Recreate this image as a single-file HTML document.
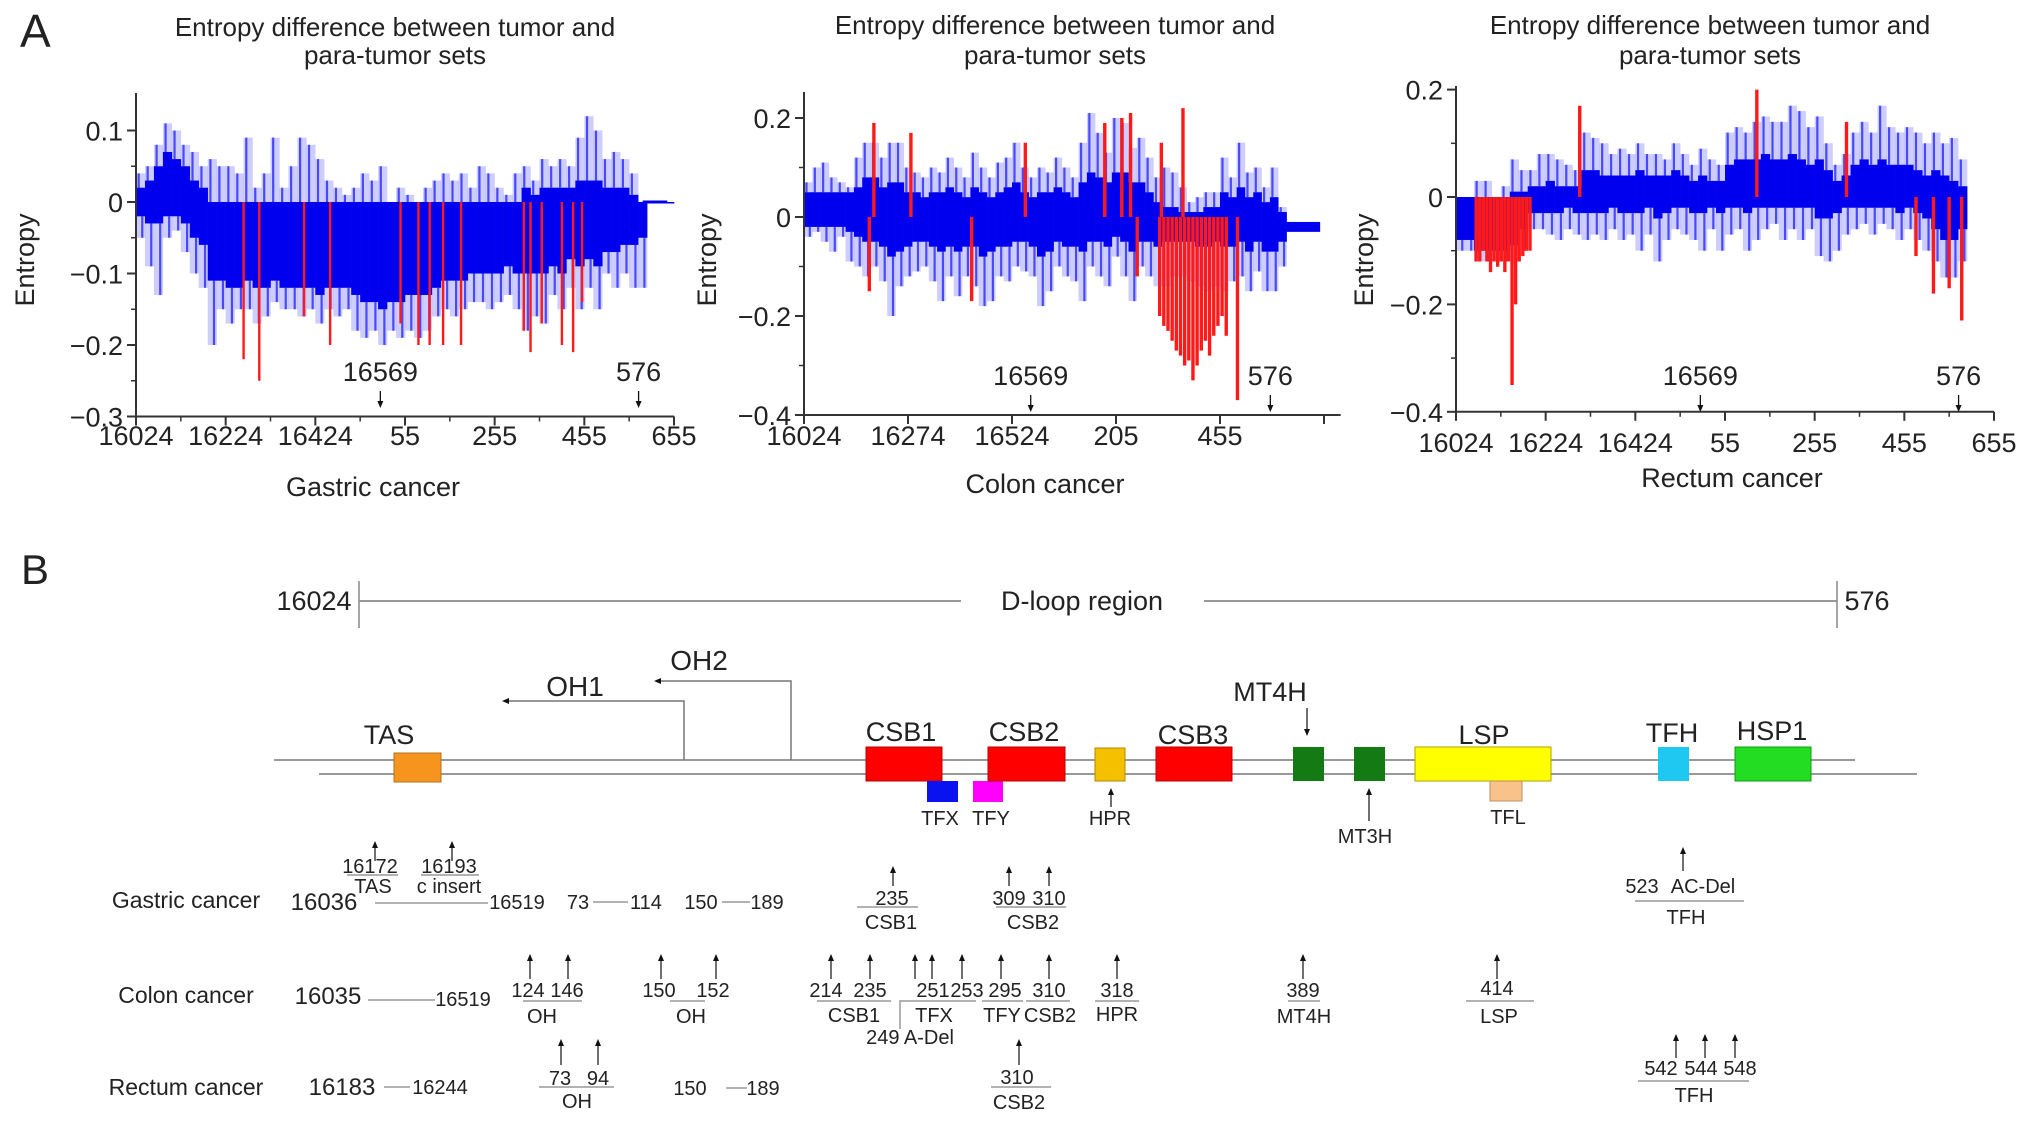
<!DOCTYPE html>
<html><head><meta charset="utf-8"><style>
html,body{margin:0;padding:0;background:#fff;}
svg{display:block;font-family:"Liberation Sans",Arial,sans-serif;}
text{fill:#222;}
</style></head><body>
<svg id="fig" width="2032" height="1122" viewBox="0 0 2032 1122" xmlns="http://www.w3.org/2000/svg">
<defs>
<marker id="ah" markerWidth="8" markerHeight="8" refX="4" refY="4" orient="auto" markerUnits="userSpaceOnUse"><path d="M0,1 L7,4 L0,7 Z" fill="#111"/></marker>
</defs>
<text x="20" y="47" font-size="46">A</text>
<g id="c1"></g>
<g id="c2"></g>
<g id="c3"></g>

<g font-size="20" text-anchor="middle">
<text x="21" y="584" font-size="42" text-anchor="start">B</text>
<text x="314" y="610" font-size="27">16024</text>
<line x1="359" y1="581" x2="359" y2="628" stroke="#888" stroke-width="1.5"/>
<line x1="359" y1="601" x2="961" y2="601" stroke="#999" stroke-width="2"/>
<text x="1082" y="610" font-size="27">D-loop region</text>
<line x1="1204" y1="601" x2="1837" y2="601" stroke="#999" stroke-width="2"/>
<line x1="1837" y1="581" x2="1837" y2="628" stroke="#888" stroke-width="1.5"/>
<text x="1867" y="610" font-size="27">576</text>

<line x1="274" y1="760" x2="1855" y2="760" stroke="#999" stroke-width="2"/>
<line x1="319" y1="774" x2="1917" y2="774" stroke="#999" stroke-width="2"/>

<polyline points="684,760 684,701 505,701" fill="none" stroke="#777" stroke-width="1.5" marker-end="url(#ah)"/>
<text x="575" y="696" font-size="28">OH1</text>
<polyline points="791,760 791,681 657,681" fill="none" stroke="#777" stroke-width="1.5" marker-end="url(#ah)"/>
<text x="699" y="670" font-size="28">OH2</text>

<rect x="394" y="753" width="47" height="29" fill="#f7941d" stroke="#b0701a"/>
<text x="389" y="744" font-size="27">TAS</text>
<rect x="866" y="747" width="76" height="34" fill="#f00" stroke="#b00"/>
<text x="901" y="741" font-size="27">CSB1</text>
<rect x="927" y="781" width="31" height="21" fill="#0a12f0"/>
<text x="940" y="825">TFX</text>
<rect x="973" y="781" width="30" height="21" fill="#f0f"/>
<text x="991" y="825">TFY</text>
<rect x="988" y="747" width="77" height="34" fill="#f00" stroke="#b00"/>
<text x="1024" y="741" font-size="27">CSB2</text>
<rect x="1095" y="748" width="30" height="33" fill="#f5c000" stroke="#b08a00"/>
<line x1="1111" y1="807" x2="1111" y2="791" stroke="#111" stroke-width="1.2" marker-end="url(#ah)"/>
<text x="1110" y="825">HPR</text>
<rect x="1156" y="747" width="76" height="34" fill="#f00" stroke="#b00"/>
<text x="1193" y="744" font-size="27">CSB3</text>
<rect x="1293" y="747" width="31" height="34" fill="#147a14"/>
<line x1="1307" y1="708" x2="1307" y2="733" stroke="#111" stroke-width="1.2" marker-end="url(#ah)"/>
<text x="1270" y="701" font-size="27">MT4H</text>
<rect x="1354" y="747" width="31" height="34" fill="#147a14"/>
<line x1="1369" y1="821" x2="1369" y2="791" stroke="#111" stroke-width="1.2" marker-end="url(#ah)"/>
<text x="1365" y="843">MT3H</text>
<rect x="1415" y="747" width="136" height="34" fill="#ff0" stroke="#b0a000"/>
<text x="1484" y="744" font-size="27">LSP</text>
<rect x="1490" y="781" width="32" height="20" fill="#f9c28a" stroke="#c09060"/>
<text x="1508" y="824">TFL</text>
<rect x="1658" y="747" width="31" height="34" fill="#1ec8f0"/>
<text x="1672" y="742" font-size="27">TFH</text>
<rect x="1735" y="747" width="76" height="34" fill="#22dd22" stroke="#119911"/>
<text x="1772" y="740" font-size="27">HSP1</text>

<g>
<text x="186" y="908" font-size="23">Gastric cancer</text>
<text x="324" y="910" font-size="24">16036</text>
<line x1="375" y1="903" x2="488" y2="903" stroke="#999" stroke-width="1.5"/>
<text x="517" y="909">16519</text>
<text x="578" y="909">73</text>
<line x1="593" y1="902" x2="628" y2="902" stroke="#999" stroke-width="1.5"/>
<text x="646" y="909">114</text>
<text x="701" y="909">150</text>
<line x1="722" y1="902" x2="750" y2="902" stroke="#999" stroke-width="1.5"/>
<text x="767" y="909">189</text>
<line x1="375" y1="861" x2="375" y2="844" stroke="#111" stroke-width="1.2" marker-end="url(#ah)"/>
<text x="370" y="873">16172</text>
<line x1="347" y1="875" x2="398" y2="875" stroke="#999" stroke-width="1.5"/>
<text x="373" y="893">TAS</text>
<line x1="452" y1="861" x2="452" y2="844" stroke="#111" stroke-width="1.2" marker-end="url(#ah)"/>
<text x="449" y="873">16193</text>
<line x1="421" y1="875" x2="479" y2="875" stroke="#999" stroke-width="1.5"/>
<text x="449" y="893">c insert</text>
<line x1="893" y1="886" x2="893" y2="869" stroke="#111" stroke-width="1.2" marker-end="url(#ah)"/>
<text x="892" y="905">235</text>
<line x1="857" y1="907" x2="918" y2="907" stroke="#999" stroke-width="1.5"/>
<text x="891" y="929">CSB1</text>
<line x1="1009" y1="886" x2="1009" y2="869" stroke="#111" stroke-width="1.2" marker-end="url(#ah)"/>
<line x1="1049" y1="886" x2="1049" y2="869" stroke="#111" stroke-width="1.2" marker-end="url(#ah)"/>
<text x="1009" y="905">309</text>
<text x="1049" y="905">310</text>
<line x1="996" y1="907" x2="1066" y2="907" stroke="#999" stroke-width="1.5"/>
<text x="1033" y="929">CSB2</text>
<line x1="1683" y1="871" x2="1683" y2="850" stroke="#111" stroke-width="1.2" marker-end="url(#ah)"/>
<text x="1642" y="893">523</text>
<text x="1703" y="893">AC-Del</text>
<line x1="1635" y1="901" x2="1744" y2="901" stroke="#999" stroke-width="1.5"/>
<text x="1686" y="924">TFH</text>
</g>

<g>
<text x="186" y="1003" font-size="23">Colon cancer</text>
<text x="328" y="1004" font-size="24">16035</text>
<line x1="368" y1="1000" x2="435" y2="1000" stroke="#999" stroke-width="1.5"/>
<text x="463" y="1006">16519</text>
<line x1="530" y1="979" x2="530" y2="957" stroke="#111" stroke-width="1.2" marker-end="url(#ah)"/>
<line x1="568" y1="979" x2="568" y2="957" stroke="#111" stroke-width="1.2" marker-end="url(#ah)"/>
<text x="528" y="997">124</text>
<text x="567" y="997">146</text>
<line x1="523" y1="1001" x2="582" y2="1001" stroke="#999" stroke-width="1.5"/>
<text x="542" y="1023">OH</text>
<line x1="661" y1="979" x2="661" y2="957" stroke="#111" stroke-width="1.2" marker-end="url(#ah)"/>
<line x1="716" y1="979" x2="716" y2="957" stroke="#111" stroke-width="1.2" marker-end="url(#ah)"/>
<text x="659" y="997">150</text>
<text x="713" y="997">152</text>
<line x1="670" y1="1001" x2="705" y2="1001" stroke="#999" stroke-width="1.5"/>
<text x="691" y="1023">OH</text>
<line x1="831" y1="979" x2="831" y2="957" stroke="#111" stroke-width="1.2" marker-end="url(#ah)"/>
<line x1="870" y1="979" x2="870" y2="957" stroke="#111" stroke-width="1.2" marker-end="url(#ah)"/>
<text x="826" y="997">214</text>
<text x="870" y="997">235</text>
<line x1="817" y1="1001" x2="891" y2="1001" stroke="#999" stroke-width="1.5"/>
<text x="854" y="1022">CSB1</text>
<line x1="900" y1="1000" x2="900" y2="1029" stroke="#999" stroke-width="1.5"/>
<text x="910" y="1044">249 A-Del</text>
<line x1="915" y1="979" x2="915" y2="957" stroke="#111" stroke-width="1.2" marker-end="url(#ah)"/>
<line x1="932" y1="979" x2="932" y2="957" stroke="#111" stroke-width="1.2" marker-end="url(#ah)"/>
<line x1="962" y1="979" x2="962" y2="957" stroke="#111" stroke-width="1.2" marker-end="url(#ah)"/>
<text x="933" y="997">251</text>
<text x="967" y="997">253</text>
<line x1="901" y1="1001" x2="976" y2="1001" stroke="#999" stroke-width="1.5"/>
<text x="934" y="1022">TFX</text>
<line x1="1001" y1="979" x2="1001" y2="957" stroke="#111" stroke-width="1.2" marker-end="url(#ah)"/>
<text x="1005" y="997">295</text>
<line x1="982" y1="1001" x2="1023" y2="1001" stroke="#999" stroke-width="1.5"/>
<text x="1002" y="1022">TFY</text>
<line x1="1049" y1="979" x2="1049" y2="957" stroke="#111" stroke-width="1.2" marker-end="url(#ah)"/>
<text x="1049" y="997">310</text>
<line x1="1026" y1="1001" x2="1070" y2="1001" stroke="#999" stroke-width="1.5"/>
<text x="1050" y="1022">CSB2</text>
<line x1="1117" y1="979" x2="1117" y2="957" stroke="#111" stroke-width="1.2" marker-end="url(#ah)"/>
<text x="1117" y="997">318</text>
<line x1="1095" y1="1001" x2="1139" y2="1001" stroke="#999" stroke-width="1.5"/>
<text x="1117" y="1021">HPR</text>
<line x1="1303" y1="979" x2="1303" y2="957" stroke="#111" stroke-width="1.2" marker-end="url(#ah)"/>
<text x="1303" y="997">389</text>
<line x1="1288" y1="1001" x2="1320" y2="1001" stroke="#999" stroke-width="1.5"/>
<text x="1304" y="1023">MT4H</text>
<line x1="1497" y1="979" x2="1497" y2="957" stroke="#111" stroke-width="1.2" marker-end="url(#ah)"/>
<text x="1497" y="995">414</text>
<line x1="1466" y1="1001" x2="1534" y2="1001" stroke="#999" stroke-width="1.5"/>
<text x="1499" y="1023">LSP</text>
</g>

<g>
<text x="186" y="1095" font-size="23">Rectum cancer</text>
<text x="342" y="1095" font-size="24">16183</text>
<line x1="384" y1="1087" x2="410" y2="1087" stroke="#999" stroke-width="1.5"/>
<text x="440" y="1094">16244</text>
<line x1="561" y1="1065" x2="561" y2="1042" stroke="#111" stroke-width="1.2" marker-end="url(#ah)"/>
<line x1="598" y1="1065" x2="598" y2="1042" stroke="#111" stroke-width="1.2" marker-end="url(#ah)"/>
<text x="560" y="1085">73</text>
<text x="598" y="1085">94</text>
<line x1="539" y1="1087" x2="614" y2="1087" stroke="#999" stroke-width="1.5"/>
<text x="577" y="1108">OH</text>
<text x="690" y="1095">150</text>
<line x1="726" y1="1088" x2="747" y2="1088" stroke="#999" stroke-width="1.5"/>
<text x="763" y="1095">189</text>
<line x1="1019" y1="1065" x2="1019" y2="1042" stroke="#111" stroke-width="1.2" marker-end="url(#ah)"/>
<text x="1017" y="1084">310</text>
<line x1="991" y1="1087" x2="1051" y2="1087" stroke="#999" stroke-width="1.5"/>
<text x="1019" y="1109">CSB2</text>
<line x1="1676" y1="1058" x2="1676" y2="1037" stroke="#111" stroke-width="1.2" marker-end="url(#ah)"/>
<line x1="1705" y1="1058" x2="1705" y2="1037" stroke="#111" stroke-width="1.2" marker-end="url(#ah)"/>
<line x1="1735" y1="1058" x2="1735" y2="1037" stroke="#111" stroke-width="1.2" marker-end="url(#ah)"/>
<text x="1661" y="1075">542</text>
<text x="1701" y="1075">544</text>
<text x="1740" y="1075">548</text>
<line x1="1638" y1="1081" x2="1749" y2="1081" stroke="#999" stroke-width="1.5"/>
<text x="1694" y="1102">TFH</text>
</g>
</g>
</svg>
<script>
// ---- Gastric (bins of 20 positions from 16024) ----
const gHi = [.04,.05,.08,.11,.10,.08,.07,.05,.06,.05,.05,.04,.09,.02,.04,.09,.02,.05,.09,.08,.06,.03,.02,.01,.02,.04,.03,.05,0,.02,.01,0,.02,.03,.04,.03,.04,.02,.05,.04,.02,.01,.04,.05,.03,.06,.05,.06,.05,.09,.12,.10,.06,.07,.06,.04,0,0,0,0];
const gLo = [-.05,-.09,-.13,-.05,-.04,-.07,-.10,-.12,-.20,-.15,-.17,-.15,-.15,-.17,-.16,-.14,-.15,-.15,-.16,-.15,-.17,-.15,-.16,-.15,-.18,-.19,-.18,-.20,-.18,-.19,-.18,-.19,-.18,-.16,-.15,-.16,-.15,-.14,-.14,-.15,-.14,-.13,-.15,-.18,-.16,-.17,-.13,-.15,-.12,-.15,-.12,-.15,-.10,-.12,-.10,-.12,-.12,0,0,0];
const gCoreHi = [.02,.03,.05,.07,.06,.05,.03,.02,0,0,0,0,0,0,0,0,0,0,0,0,0,0,0,0,0,0,0,0,0,0,0,0,0,0,0,0,0,0,0,0,0,0,0,.02,.01,.02,.02,.02,.02,.03,.03,.03,.02,.02,.02,.01,0,0,0,0];
const gCoreLo = [-.02,-.03,-.03,-.02,-.02,-.03,-.05,-.06,-.11,-.11,-.12,-.12,-.11,-.12,-.12,-.11,-.12,-.12,-.12,-.12,-.13,-.12,-.12,-.12,-.13,-.14,-.14,-.15,-.14,-.14,-.13,-.13,-.13,-.12,-.11,-.11,-.11,-.10,-.10,-.10,-.10,-.09,-.10,-.10,-.10,-.10,-.09,-.10,-.08,-.09,-.08,-.09,-.07,-.07,-.06,-.06,-.05,0,0,0];
const gRedPos = [240,275,375,433,590,630,655,685,725,865,880,905,950,975,995];
const gRedVal = [-.22,-.25,-.16,-.20,-.17,-.20,-.20,-.20,-.20,-.18,-.21,-.17,-.20,-.21,-.14];
const gYTicks = [0.1,0,-0.1,-0.2,-0.3];
const gXTicks = ["16024","16224","16424","55","255","455","655"];
// ---- Colon ----
const cHi = [.07,.10,.11,.08,.07,.06,.12,.15,.15,.12,.15,.15,.10,.09,.08,.10,.09,.12,.10,.08,.13,.10,.08,.11,.12,.15,.10,.08,.10,.09,.12,.10,.08,.15,.21,.17,.13,.20,.19,.14,.16,.12,.08,.10,.09,.06,.03,.04,.05,.05,.12,.08,.15,.09,.10,.06,.10,.02,-.01,-.01,-.01,-.01];
const cLo = [-.04,-.03,-.05,-.07,-.04,-.09,-.10,-.12,-.10,-.13,-.20,-.14,-.12,-.11,-.10,-.13,-.17,-.12,-.16,-.12,-.14,-.18,-.17,-.12,-.13,-.10,-.11,-.12,-.18,-.15,-.10,-.12,-.13,-.17,-.10,-.12,-.14,-.08,-.12,-.17,-.10,-.12,-.14,-.14,-.12,-.12,-.13,-.14,-.15,-.14,-.15,-.13,-.12,-.15,-.11,-.15,-.15,-.10,-.03,-.03,-.03,-.03];
const cCoreHi = [.05,.05,.05,.05,.05,.05,.06,.08,.08,.06,.07,.07,.05,.05,.04,.05,.05,.06,.05,.04,.06,.05,.04,.05,.06,.07,.05,.04,.05,.05,.06,.05,.04,.07,.09,.08,.07,.09,.09,.07,.07,.05,.03,.02,.02,.01,.01,.01,.02,.02,.05,.04,.06,.04,.05,.03,.04,.01,-.01,-.01,-.01,-.01];
const cCoreLo = [-.02,-.02,-.02,-.02,-.02,-.03,-.04,-.05,-.05,-.06,-.08,-.07,-.06,-.05,-.05,-.06,-.07,-.06,-.07,-.06,-.06,-.08,-.07,-.06,-.06,-.05,-.05,-.06,-.08,-.07,-.05,-.06,-.06,-.07,-.05,-.05,-.06,-.04,-.05,-.07,-.05,-.05,-.06,-.05,-.05,-.05,-.05,-.06,-.06,-.05,-.06,-.06,-.05,-.07,-.05,-.07,-.07,-.05,-.03,-.03,-.03,-.03];
const cRedPos = [157,168,257,403,532,723,764,785,801,859,911,1042,855,865,875,885,895,905,915,925,935,945,955,965,975,985,995,1005,1015];
const cRedVal = [-.15,.19,.17,-.17,.15,.19,.20,.21,-.12,.15,.22,-.37,-.20,-.22,-.23,-.25,-.27,-.28,-.30,-.29,-.33,-.30,-.27,-.25,-.28,-.24,-.22,-.20,-.24];
const cYTicks = [0.2,0,-0.2,-0.4];
const cXTicks = ["16024","16274","16524","205","455",""];
// ---- Rectum ----
const rHi = [0,0,.03,.03,0,.02,.07,.05,.05,.08,.08,.07,.06,.05,.12,.11,.10,.08,.09,.08,.10,.08,.08,.07,.10,.08,.06,.09,.07,.06,.12,.13,.12,.14,.15,.14,.14,.17,.16,.13,.15,.10,.06,.08,.12,.14,.12,.17,.13,.12,.13,.12,.10,.12,.10,.11,.07];
const rLo = [-.10,-.10,-.12,-.12,-.12,-.12,-.12,-.10,-.06,-.06,-.07,-.08,-.06,-.07,-.08,-.07,-.08,-.06,-.08,-.07,-.10,-.07,-.12,-.08,-.06,-.07,-.08,-.10,-.06,-.10,-.07,-.06,-.10,-.08,-.06,-.05,-.08,-.06,-.08,-.06,-.11,-.12,-.10,-.07,-.06,-.05,-.07,-.05,-.06,-.08,-.06,-.08,-.10,-.12,-.15,-.15,-.12];
const rCoreHi = [0,0,0,0,0,0,.01,.01,.02,.02,.03,.02,.02,.02,.05,.05,.04,.04,.04,.04,.05,.04,.04,.04,.05,.04,.03,.04,.03,.03,.06,.07,.07,.07,.08,.07,.07,.08,.07,.06,.07,.05,.03,.04,.06,.07,.06,.07,.06,.06,.06,.05,.04,.05,.04,.03,.02];
const rCoreLo = [-.08,-.08,-.10,-.10,-.10,-.10,-.09,-.06,-.03,-.03,-.03,-.03,-.02,-.03,-.03,-.03,-.03,-.02,-.03,-.03,-.03,-.02,-.04,-.03,-.02,-.02,-.03,-.03,-.02,-.03,-.02,-.02,-.03,-.02,-.02,-.02,-.02,-.02,-.02,-.02,-.04,-.04,-.03,-.02,-.02,-.02,-.02,-.02,-.02,-.03,-.02,-.03,-.04,-.06,-.08,-.08,-.06];
const rRedPos = [276,671,871,1026,1065,1100,1128,45,53,61,69,77,85,93,101,109,117,125,133,141,149,157,165];
const rRedVal = [.17,.20,.14,-.11,-.18,-.17,-.23,-.12,-.12,-.10,-.12,-.14,-.12,-.13,-.12,-.14,-.12,-.35,-.20,-.12,-.11,-.10,-.10];
const rYTicks = [0.2,0,-0.2,-0.4];
const rXTicks = ["16024","16224","16424","55","255","455","655"];

const NS = "http://www.w3.org/2000/svg";
function mk(parent, tag, attrs) {
  const el = document.createElementNS(NS, tag);
  for (const k in attrs) el.setAttribute(k, attrs[k]);
  parent.appendChild(el);
  return el;
}
function fmt(v){ return v === 0 ? "0" : (v < 0 ? "\u2212" + Math.abs(v) : String(v)); }

function drawChart(g, cfg, hi, lo, coreHi, coreLo, redPos, redVal, yTicks, xTicks) {
  const xs = i => cfg.x0 + i * cfg.pxPerUnit;
  const ys = v => cfg.yZero - v * cfg.pxPerVal;
  const t1 = mk(g, "text", {x: cfg.tx, y: cfg.ty1, "font-size": 26, "text-anchor": "middle"});
  
  
  t1.textContent = "Entropy difference between tumor and";
  const t2 = mk(g, "text", {x: cfg.tx, y: cfg.ty2, "font-size": 26, "text-anchor": "middle"});
  
  
  t2.textContent = "para-tumor sets";
  const bw = cfg.bin * cfg.pxPerUnit;
  for (let i = 0; i < hi.length; i++) {
    const x = xs(i * cfg.bin);
    const halo = mk(g, "rect", {x: x, y: ys(hi[i]), width: bw + 0.2, height: Math.max(1, ys(lo[i]) - ys(hi[i])), fill: "#4d4dff", "fill-opacity": 0.28});
    
    
    const s1 = mk(g, "line", {x1: x + bw * 0.3, y1: ys(coreHi[i]), x2: x + bw * 0.3, y2: ys(hi[i]), stroke: "#3030ff", "stroke-width": 2.2, "stroke-opacity": 0.85});
    
    
    const s2 = mk(g, "line", {x1: x + bw * 0.7, y1: ys(coreLo[i]), x2: x + bw * 0.7, y2: ys(lo[i]), stroke: "#3030ff", "stroke-width": 2.2, "stroke-opacity": 0.85});
    
    
    const core = mk(g, "rect", {x: x, y: ys(coreHi[i]), width: bw + 0.3, height: Math.max(1.5, ys(coreLo[i]) - ys(coreHi[i])), fill: "#0000ee"});
    
    
  }
  if (cfg.flatEnd) {
    const fl = mk(g, "line", {x1: xs(cfg.flatEnd[0]), y1: ys(0), x2: xs(cfg.flatEnd[1]), y2: ys(0), stroke: "#0000ee", "stroke-width": 3});
    
    
  }
  for (let i = 0; i < redPos.length; i++) {
    const rl = mk(g, "line", {x1: xs(redPos[i]), y1: ys(0), x2: xs(redPos[i]), y2: ys(redVal[i]), stroke: "#ff1a1a", "stroke-width": cfg.redW});
    
    
  }
  const yBot = ys(yTicks[yTicks.length - 1]);
  const ya = mk(g, "line", {x1: cfg.x0, y1: cfg.yTop, x2: cfg.x0, y2: yBot, stroke: "#333", "stroke-width": 2});
  
  
  const xa = mk(g, "line", {x1: cfg.x0, y1: yBot, x2: xs(cfg.axisEnd), y2: yBot, stroke: "#333", "stroke-width": 2});
  
  
  for (let k = 0; k < yTicks.length; k++) {
    const v = yTicks[k];
    const tk = mk(g, "line", {x1: cfg.x0 - 9, y1: ys(v), x2: cfg.x0, y2: ys(v), stroke: "#333", "stroke-width": 2});
    
    
    const tl = mk(g, "text", {x: cfg.x0 - 13, y: ys(v) + 10, "font-size": 27, "text-anchor": "end"});
    
    
    tl.textContent = fmt(v);
    if (k < yTicks.length - 1) {
      const mv = (yTicks[k] + yTicks[k + 1]) / 2;
      const mt = mk(g, "line", {x1: cfg.x0 - 5, y1: ys(mv), x2: cfg.x0, y2: ys(mv), stroke: "#333", "stroke-width": 1.5});
      
      
    }
  }
  for (let k = 0; k < xTicks.length; k++) {
    const x = xs(k * cfg.xStep);
    const tk = mk(g, "line", {x1: x, y1: yBot, x2: x, y2: yBot + 9, stroke: "#333", "stroke-width": 2});
    
    
    const tl = mk(g, "text", {x: x, y: cfg.xlabY, "font-size": 27, "text-anchor": "middle"});
    
    
    tl.textContent = xTicks[k];
    if (cfg.minor && k < xTicks.length - 1) {
      const mt = mk(g, "line", {x1: xs(k * cfg.xStep + cfg.xStep / 2), y1: yBot, x2: xs(k * cfg.xStep + cfg.xStep / 2), y2: yBot + 5, stroke: "#333", "stroke-width": 1.5});
      
      
    }
  }
  const marks = [[545, "16569"], [cfg.end576, "576"]];
  for (const m of marks) {
    const ml = mk(g, "text", {x: xs(m[0]), y: cfg.markY, "font-size": 27, "text-anchor": "middle"});
    
    
    ml.textContent = m[1];
    const ma = mk(g, "line", {x1: xs(m[0]), y1: cfg.markY + 10, x2: xs(m[0]), y2: cfg.markY + 24, stroke: "#111", "stroke-width": 1.3, "marker-end": "url(#ah)"});
    
    
  }
  const yl = mk(g, "text", {x: 0, y: 0, "font-size": 27, "text-anchor": "middle", transform: `translate(${cfg.ylx},${cfg.yly}) rotate(-90)`});
  
  
  yl.textContent = "Entropy";
  const xl = mk(g, "text", {x: cfg.xtx, y: cfg.xty, "font-size": 27, "text-anchor": "middle"});
  
  
  xl.textContent = cfg.xtitle;
}

drawChart(document.getElementById("c1"),
  {x0:136, pxPerUnit:538/1200, yZero:202, pxPerVal:715, bin:20, redW:2.4, yTop:93, axisEnd:1200, xStep:200, minor:true,
   xlabY:445, markY:381, end576:1121, tx:395, ty1:36, ty2:64, ylx:34, yly:260, xtx:373, xty:496, xtitle:"Gastric cancer", flatEnd:[1130,1185]},
  gHi, gLo, gCoreHi, gCoreLo, gRedPos, gRedVal, gYTicks, gXTicks);
drawChart(document.getElementById("c2"),
  {x0:804, pxPerUnit:104/250, yZero:217, pxPerVal:495, bin:20, redW:3.4, yTop:92, axisEnd:1290, xStep:250, minor:false,
   xlabY:445, markY:385, end576:1121, tx:1055, ty1:34, ty2:64, ylx:716, yly:260, xtx:1045, xty:493, xtitle:"Colon cancer", flatEnd:null},
  cHi, cLo, cCoreHi, cCoreLo, cRedPos, cRedVal, cYTicks, cXTicks);
drawChart(document.getElementById("c3"),
  {x0:1456, pxPerUnit:538/1200, yZero:197, pxPerVal:537, bin:20, redW:3.4, yTop:86, axisEnd:1200, xStep:200, minor:true,
   xlabY:452, markY:385, end576:1121, tx:1710, ty1:34, ty2:64, ylx:1373, yly:260, xtx:1732, xty:487, xtitle:"Rectum cancer", flatEnd:null},
  rHi, rLo, rCoreHi, rCoreLo, rRedPos, rRedVal, rYTicks, rXTicks);
</script>
</body></html>
